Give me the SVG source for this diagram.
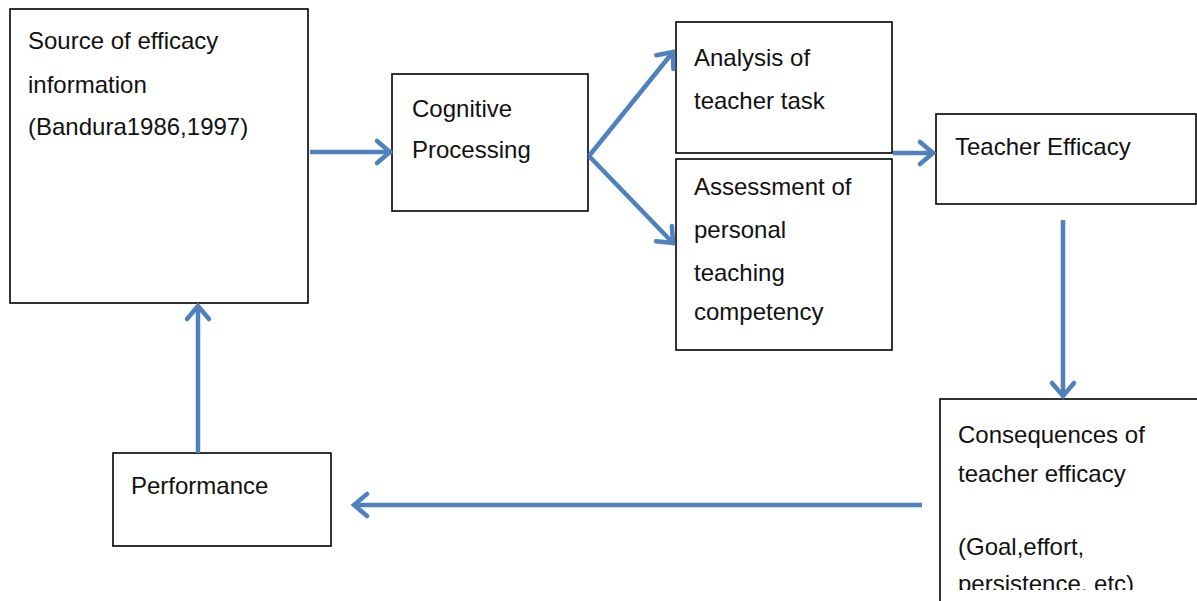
<svg xmlns="http://www.w3.org/2000/svg" width="1197" height="601" viewBox="0 0 1197 601">
<style>
.box{fill:#fff;stroke:#000;stroke-width:1.6}
.t{font-family:"Liberation Sans",Arial,sans-serif;font-size:24px;fill:#111}
.c{fill:none;stroke:#4F81BD;stroke-width:4.5;marker-end:url(#ah)}
</style>
<defs>
<marker id="ah" markerUnits="userSpaceOnUse" markerWidth="30" markerHeight="30" viewBox="-20 -15 25 30" refX="0" refY="0" orient="auto">
<path d="M-13,-11 L0,0 L-13,11" fill="none" stroke="#4F81BD" stroke-width="4.5" stroke-linecap="round" stroke-linejoin="miter"/>
</marker>
<clipPath id="clipBottom"><rect x="0" y="0" width="1197" height="590"/></clipPath>
</defs>
<rect width="1197" height="601" fill="#fff"/>
<g id="source">
<rect class="box" x="10" y="9" width="298" height="294"/>
<text class="t" x="28" y="49">Source of efficacy</text>
<text class="t" x="28" y="93">information</text>
<text class="t" x="28" y="135">(Bandura1986,1997)</text>
</g>
<g id="cognitive">
<rect class="box" x="392" y="74" width="196" height="137"/>
<text class="t" x="412" y="117">Cognitive</text>
<text class="t" x="412" y="158">Processing</text>
</g>
<g id="analysis">
<rect class="box" x="676" y="22" width="216" height="131"/>
<text class="t" x="694" y="66">Analysis of</text>
<text class="t" x="694" y="109">teacher task</text>
</g>
<g id="assessment">
<rect class="box" x="676" y="159" width="216" height="191"/>
<text class="t" x="694" y="195">Assessment of</text>
<text class="t" x="694" y="238">personal</text>
<text class="t" x="694" y="281">teaching</text>
<text class="t" x="694" y="320">competency</text>
</g>
<g id="teacher-efficacy">
<rect class="box" x="936" y="114" width="260" height="90"/>
<text class="t" x="955" y="155">Teacher Efficacy</text>
</g>
<g id="consequences">
<rect class="box" x="940" y="399" width="280" height="230"/>
<text class="t" x="958" y="443">Consequences of</text>
<text class="t" x="958" y="482">teacher efficacy</text>
<text class="t" x="958" y="555">(Goal,effort,</text>
<text class="t" x="958" y="592" clip-path="url(#clipBottom)">persistence, etc)</text>
</g>
<g id="performance">
<rect class="box" x="113" y="453" width="218" height="93"/>
<text class="t" x="131" y="494">Performance</text>
</g>
<g id="connectors">
<line class="c" x1="310" y1="152" x2="390" y2="152"/>
<line class="c" x1="589" y1="156" x2="673" y2="52"/>
<line class="c" x1="589" y1="156" x2="673" y2="243"/>
<line class="c" x1="893" y1="153" x2="933" y2="153"/>
<line class="c" x1="1063" y1="220" x2="1063" y2="396"/>
<line class="c" x1="922" y1="505" x2="354" y2="505"/>
<line class="c" x1="198" y1="453" x2="198" y2="306"/>
</g>
</svg>
